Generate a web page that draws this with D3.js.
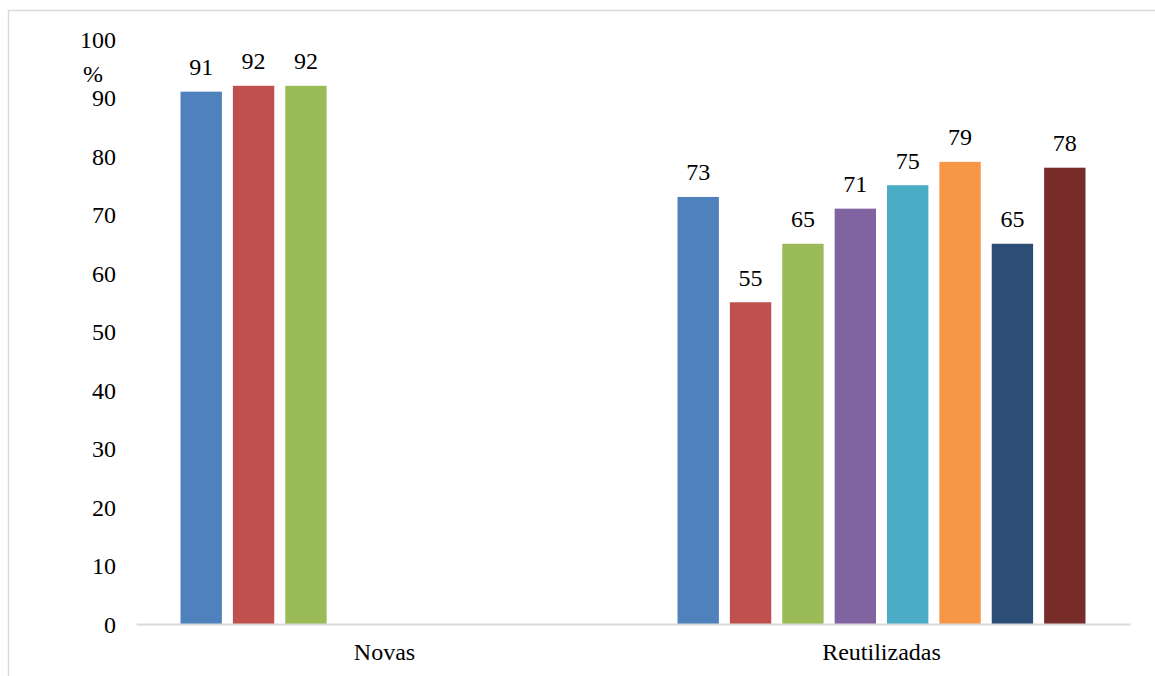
<!DOCTYPE html>
<html>
<head>
<meta charset="utf-8">
<script src="https://cdn.jsdelivr.net/npm/d3@7"></script>
<style>
  html, body { margin: 0; padding: 0; background: #fff; }
  svg { display: block; }
  svg text { font-family: "Liberation Serif"; }
</style>
</head>
<body>
<svg id="chart" width="1155" height="676"></svg>
<script>
// ---- data ----
const categories = ["Novas", "Reutilizadas"];
const seriesNames = ["S1", "S2", "S3", "S4", "S5", "S6", "S7", "S8"];
const novasValues = [91, 92, 92, null, null, null, null, null];
const reutilizadasValues = [73, 55, 65, 71, 75, 79, 65, 78];
const yTicks = [0, 10, 20, 30, 40, 50, 60, 70, 80, 90, 100];
const colors = ["#4F81BD", "#C0504D", "#9BBB59", "#8064A2", "#4BACC6", "#F79646", "#2C4D75", "#772C2A"];

const valuesByCategory = { "Novas": novasValues, "Reutilizadas": reutilizadasValues };

const svg = d3.select("#chart");
const font = '"Liberation Serif"';
const fs = 24;

// chart border (cropped at right and bottom)
svg.append("path")
  .attr("d", "M8.5,676 L8.5,10.5 L1155,10.5")
  .attr("fill", "none")
  .attr("stroke", "#d9d9d9")
  .attr("stroke-width", 1.5);

const plotLeft = 136, plotRight = 1130, plotTop = 39, plotBottom = 624;

const y = d3.scaleLinear().domain([0, 100]).range([plotBottom, plotTop]);
const x0 = d3.scaleBand().domain(categories).range([plotLeft, plotRight]).paddingInner(0).paddingOuter(0);
const x1 = d3.scaleBand().domain(seriesNames).range([0, x0.bandwidth()]).paddingInner(0.21).paddingOuter(0.85);

// y axis labels
const yAxis = d3.axisLeft(y).tickValues(yTicks).tickSize(0).tickPadding(0).tickFormat(d3.format("d"));
const yg = svg.append("g").attr("transform", `translate(116,0)`).call(yAxis);
yg.attr("font-family", null).attr("font-size", null);
yg.select(".domain").remove();
yg.selectAll("text")
  .style("font-family", font)
  .style("font-size", fs + "px")
  .attr("fill", "#000")
  .attr("dy", "0.34em");

svg.append("text")
  .attr("x", 83).attr("y", 82)
  .style("font-family", font).style("font-size", fs + "px").attr("fill", "#000")
  .text("%");

// bars
const groups = svg.append("g").selectAll("g")
  .data(categories)
  .join("g")
  .attr("transform", d => `translate(${x0(d)},0)`);

const barData = c => seriesNames.map((s, i) => ({ s, i, v: valuesByCategory[c][i] })).filter(d => d.v != null);

groups.selectAll("rect")
  .data(c => barData(c))
  .join("rect")
  .attr("x", d => x1(d.s))
  .attr("width", x1.bandwidth())
  .attr("y", d => y(d.v))
  .attr("height", d => y(0) - y(d.v))
  .attr("fill", d => colors[d.i]);

groups.selectAll("text.lbl")
  .data(c => barData(c))
  .join("text")
  .attr("class", "lbl")
  .attr("x", d => x1(d.s) + x1.bandwidth() / 2)
  .attr("y", d => y(d.v) - 16.5)
  .attr("text-anchor", "middle")
  .style("font-family", font)
  .style("font-size", fs + "px")
  .attr("fill", "#000")
  .text(d => d.v);

// x axis
const xAxis = d3.axisBottom(x0).tickSize(0).tickPadding(0);
const xg = svg.append("g").attr("transform", `translate(0,${plotBottom})`).call(xAxis);
xg.attr("font-family", null).attr("font-size", null);
xg.select(".domain").attr("stroke", "#d9d9d9").attr("stroke-width", 2);
xg.selectAll("text")
  .style("font-family", font)
  .style("font-size", fs + "px")
  .attr("fill", "#000")
  .attr("dy", 0)
  .attr("y", 36);
</script>
</body>
</html>
